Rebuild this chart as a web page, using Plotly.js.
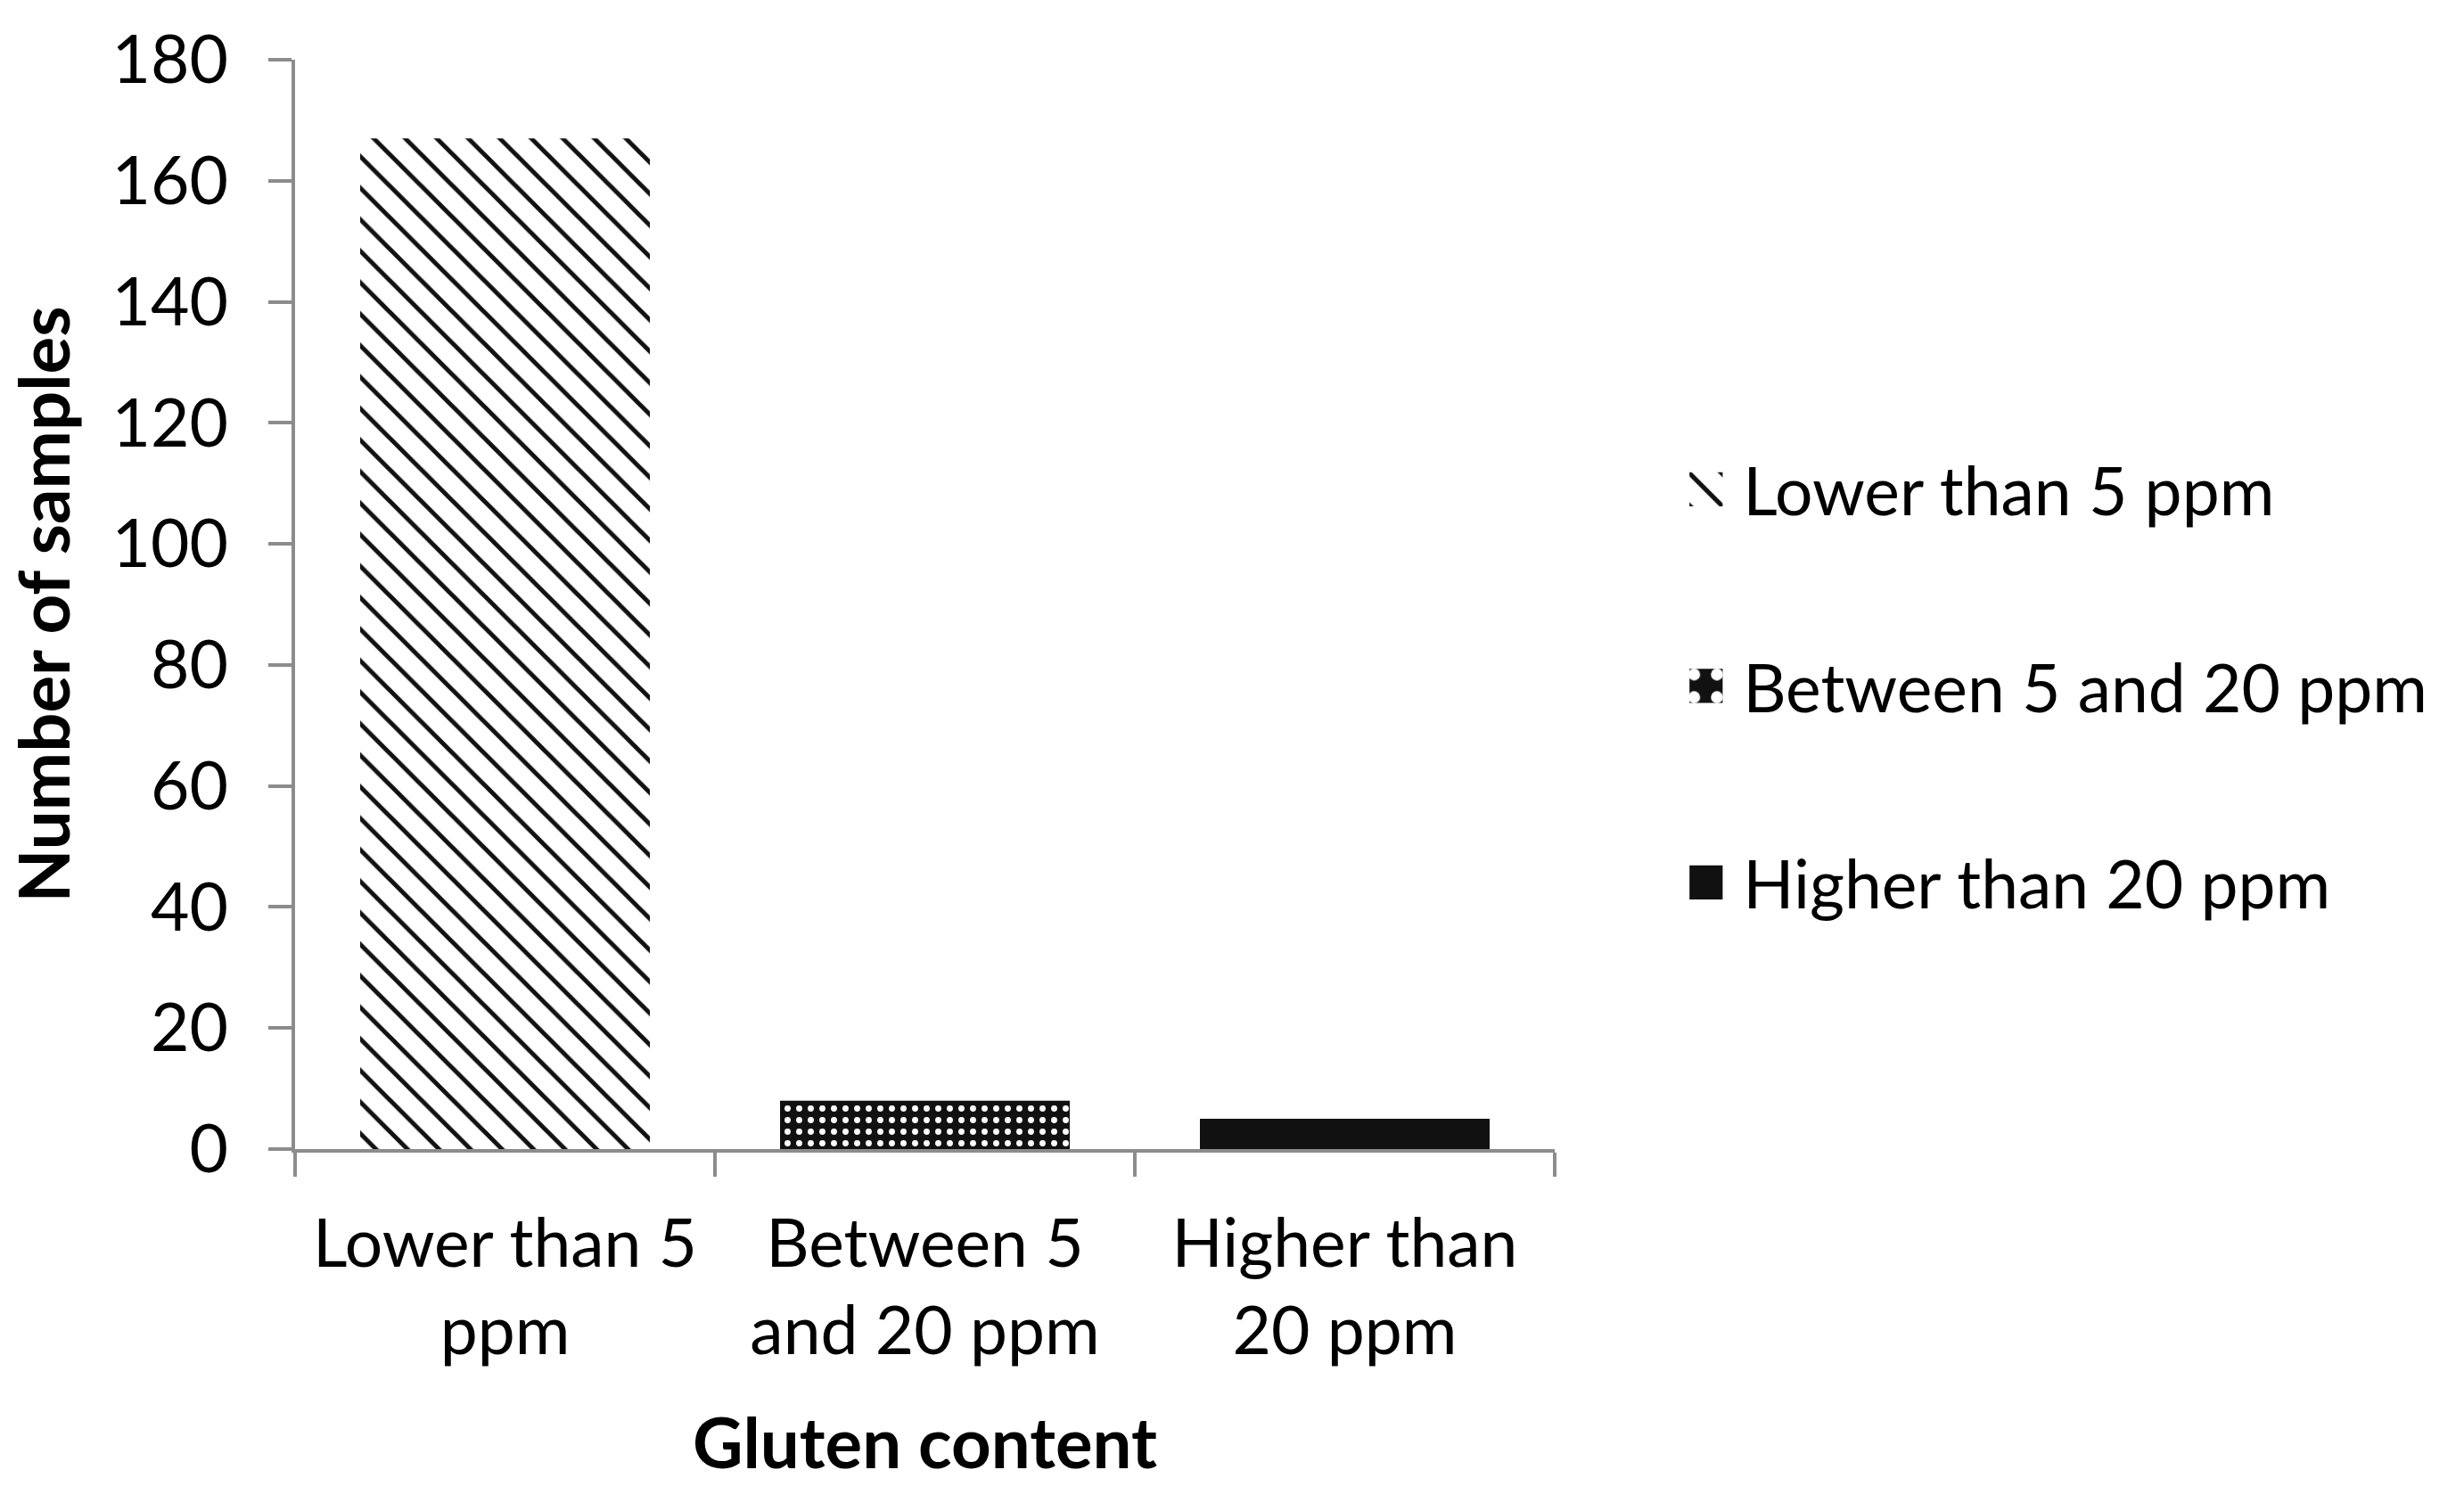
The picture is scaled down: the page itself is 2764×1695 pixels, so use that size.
<!DOCTYPE html>
<html>
<head>
<meta charset="utf-8">
<script src="https://cdn.plot.ly/plotly-3.0.1.min.js"></script>
<style>
  html, body { margin: 0; padding: 0; background: #fff; }
  #chart { width: 2764px; height: 1695px; }
</style>
</head>
<body>
<div id="chart"></div>
<script>
const categories = ['Lower than 5<br>ppm', 'Between 5<br>and 20 ppm', 'Higher than<br>20 ppm'];
const seriesNames = ['Lower than 5 ppm', 'Between 5 and 20 ppm', 'Higher than 20 ppm'];
const sampleCounts = [167, 8, 5];
const yTicks = [0, 20, 40, 60, 80, 100, 120, 140, 160, 180];

const patterns = [
  { shape: '\\', fgcolor: '#111111', bgcolor: '#ffffff', size: 25, solidity: 0.2, fillmode: 'replace' },
  { shape: '.', fgcolor: '#ffffff', bgcolor: '#111111', size: 13, solidity: 0.22, fillmode: 'replace' },
  { shape: '', fgcolor: '#111111', bgcolor: '#111111' },
];

const traces = seriesNames.map((name, i) => ({
  type: 'bar',
  name: name,
  x: [categories[i]],
  y: [sampleCounts[i]],
  legendgroup: 'g' + i,
  marker: {
    color: '#111111',
    pattern: patterns[i],
    line: { width: 0 },
  },
  hoverinfo: 'x+y',
}));

const font = 'Lato, "Open Sans", sans-serif';
const tickSize = 75;
const titleSize = 78;
const axisColor = '#8c8c8c';

const layout = {
  width: 2764,
  height: 1695,
  paper_bgcolor: '#ffffff',
  plot_bgcolor: '#ffffff',
  margin: { l: 331, r: 1020, t: 67, b: 406 },
  barmode: 'overlay',
  bargap: 0.31,
  font: { family: font, size: tickSize, color: '#000000' },
  showlegend: true,
  legend: {
    x: 1.107,
    xanchor: 'left',
    y: 0.425,
    yanchor: 'middle',
    font: { family: font, size: tickSize, color: '#000000' },
    tracegroupgap: 120,
    itemwidth: 50,
    bgcolor: 'rgba(0,0,0,0)',
  },
  xaxis: {
    type: 'category',
    categoryorder: 'array',
    categoryarray: categories,
    showline: true,
    linecolor: axisColor,
    linewidth: 4,
    ticks: 'outside',
    tickson: 'boundaries',
    ticklen: 27,
    tickwidth: 4,
    tickcolor: axisColor,
    ticklabelstandoff: 38,
    showgrid: false,
    zeroline: false,
    tickfont: { family: font, size: tickSize, color: '#000000' },
    title: {
      text: '<b>Gluten content</b>',
      font: { family: font, size: titleSize, color: '#000000' },
      standoff: 60,
    },
  },
  yaxis: {
    range: [0, 180],
    tickvals: yTicks,
    ticktext: yTicks.map(String),
    showline: true,
    linecolor: axisColor,
    linewidth: 4,
    ticks: 'outside',
    ticklen: 26,
    tickwidth: 4,
    tickcolor: axisColor,
    ticklabelstandoff: 30,
    showgrid: false,
    zeroline: false,
    tickfont: { family: font, size: tickSize, color: '#000000' },
    title: {
      text: '<b>Number of samples</b>',
      font: { family: font, size: titleSize, color: '#000000' },
      standoff: 22,
    },
  },
};

Plotly.newPlot('chart', traces, layout, { staticPlot: true, displayModeBar: false }).then((gd) => {
  // make the legend swatches as large as in the original
  gd.querySelectorAll('.legend .legendpoints path').forEach((p) => {
    const t = p.getAttribute('transform') || '';
    p.setAttribute('transform', `translate(-12,0) ${t} scale(3.2)`);
  });
});
</script>
</body>
</html>
